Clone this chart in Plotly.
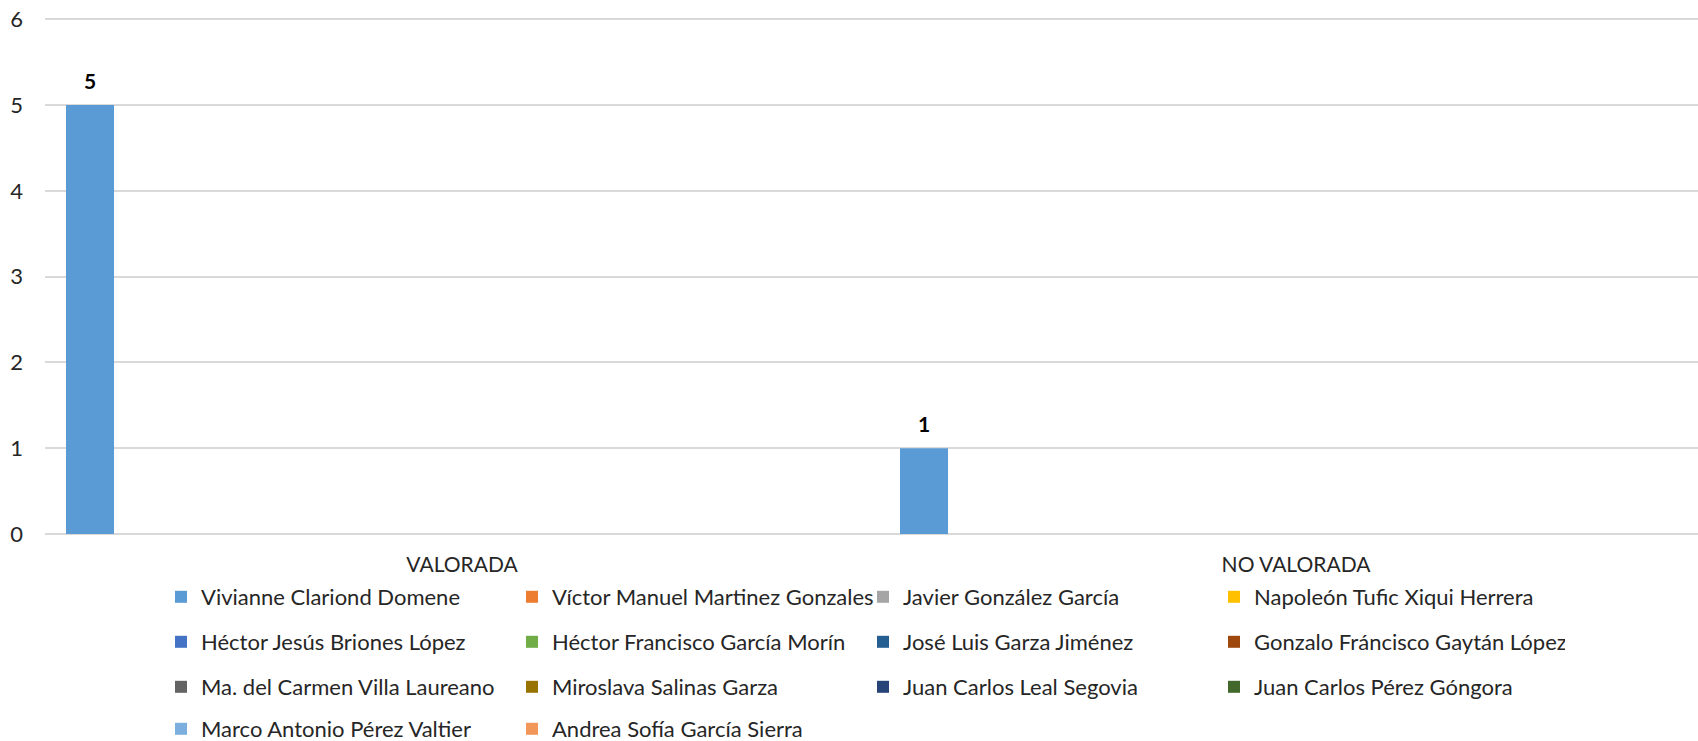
import plotly.graph_objects as go

categories = ["VALORADA", "NO VALORADA"]
series_names = [
    "Vivianne Clariond Domene",
    "Víctor Manuel Martinez Gonzales",
    "Javier González García",
    "Napoleón Tufic Xiqui Herrera",
    "Héctor Jesús Briones López",
    "Héctor Francisco García Morín",
    "José Luis Garza Jiménez",
    "Gonzalo Fráncisco Gaytán López",
    "Ma. del Carmen Villa Laureano",
    "Miroslava Salinas Garza",
    "Juan Carlos Leal Segovia",
    "Juan Carlos Pérez Góngora",
    "Marco Antonio Pérez Valtier",
    "Andrea Sofía García Sierra",
]
series_values = [
    [5, 1],
    [0, 0], [0, 0], [0, 0], [0, 0], [0, 0], [0, 0], [0, 0],
    [0, 0], [0, 0], [0, 0], [0, 0], [0, 0], [0, 0],
]
colors = [
    "#5B9BD5", "#ED7D31", "#A5A5A5", "#FFC000", "#4472C4", "#70AD47", "#255E91",
    "#9E480E", "#636363", "#997300", "#264478", "#43682B", "#7CAFDD", "#F1975A",
]
y_ticks = [0, 1, 2, 3, 4, 5, 6]

FONT = "Lato"
TXT = "#262626"
W, H = 1698, 741
BARGAP = 0.0393
BARGROUPGAP = 0.161

fig = go.Figure()
legend_ids = ["legend", "legend2", "legend3", "legend4"]
for i, (name, vals, col) in enumerate(zip(series_names, series_values, colors)):
    fig.add_trace(go.Bar(
        name=name,
        x=categories,
        y=vals,
        marker=dict(color=col, line=dict(width=0)),
        legend=legend_ids[i // 4],
        hoverinfo="x+y+name",
    ))

# data labels for the first series, placed at the centre of its bar in each group
n_series = len(series_names)
slot = (1 - BARGAP) / n_series
first_offset = -(1 - BARGAP) / 2 + slot / 2
for ci, v in enumerate(series_values[0]):
    fig.add_annotation(
        x=ci + first_offset, y=v, xref="x", yref="y",
        text=f"<b>{v}</b>", showarrow=False,
        yanchor="middle", yshift=25,
        font=dict(family=FONT, size=21, color="#000000"),
    )

row_y = [597, 642, 687, 729]
legend_common = dict(
    orientation="h",
    xref="container", yref="container",
    xanchor="left", yanchor="middle",
    entrywidth=306, entrywidthmode="pixels",
    font=dict(family=FONT, size=22, color=TXT),
    bgcolor="rgba(0,0,0,0)",
    borderwidth=0,
    traceorder="normal",
)
layout_legends = {}
for k, lid in enumerate(legend_ids):
    layout_legends[lid] = dict(legend_common, x=161 / W, y=1 - row_y[k] / H)

fig.update_layout(
    width=W, height=H,
    margin=dict(l=45, r=0, t=15, b=207),
    paper_bgcolor="white", plot_bgcolor="white",
    barmode="group",
    bargap=BARGAP,
    bargroupgap=BARGROUPGAP,
    font=dict(family=FONT, size=22, color=TXT),
    showlegend=True,
    xaxis=dict(
        type="category",
        range=[-0.5, 1.482],
        showgrid=False,
        showline=False,
        zeroline=False,
        ticks="",
        tickfont=dict(family=FONT, size=21, color=TXT),
        ticklabelstandoff=16,
    ),
    yaxis=dict(
        range=[0, 6.05],
        tickvals=y_ticks,
        showgrid=True,
        gridcolor="#D9D9D9",
        gridwidth=1.5,
        zeroline=True,
        zerolinecolor="#D9D9D9",
        zerolinewidth=1.5,
        showline=False,
        ticks="",
        tickfont=dict(family=FONT, size=22, color=TXT),
        ticklabelstandoff=21,
    ),
    **layout_legends,
)

fig.write_html(
    "out.html",
    config={"displayModeBar": False},
    post_script="document.body.style.margin='0';document.body.style.overflow='hidden';",
)
